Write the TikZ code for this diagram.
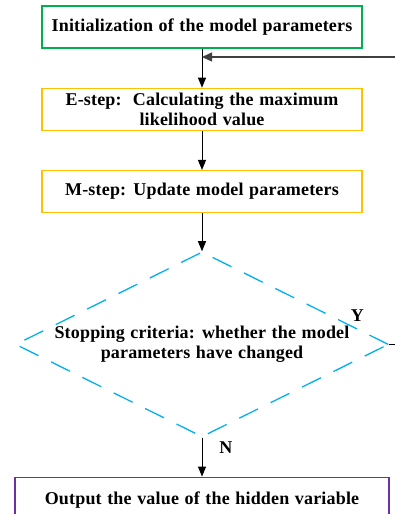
\documentclass[tikz,border=0pt]{standalone}
\usepackage{fontspec}
\setmainfont{Liberation Serif}[WordSpace=1.2, LetterSpace=1]
\usetikzlibrary{positioning, arrows.meta, shapes.geometric}
\definecolor{initgreen}{RGB}{0,176,80}
\definecolor{stepgold}{RGB}{255,192,0}
\definecolor{critblue}{RGB}{0,176,240}
\definecolor{outpurple}{RGB}{112,48,160}

\begin{document}
\begin{tikzpicture}[
  box/.style={draw=#1, rectangle, minimum width=320pt, minimum height=42pt,
              line width=1.3pt, align=center, inner sep=2pt,
              font=\fontsize{18}{20}\selectfont\bfseries},
  crit/.style={draw=critblue, diamond, aspect=2, minimum width=373pt, minimum height=185pt,
               line width=1.3pt, dash pattern=on 21pt off 14pt, align=center, inner sep=0pt,
               font=\fontsize{18}{20}\selectfont\bfseries},
  arr/.style={-{Triangle[length=10pt, width=8pt]}, line width=0.9pt, color=black},
  arrfb/.style={-{Triangle[length=10pt, width=9pt]}, line width=1.3pt, color=black!75},
  lbl/.style={font=\fontsize{18}{20}\selectfont\bfseries, inner sep=1pt},
]
\useasboundingbox (0,0) rectangle (395pt,-514pt);

% ===== MAIN FLOW NODES =====
\node[box=initgreen] (m1) at (202pt,-27pt) {Initialization of the model parameters};
\node[box=stepgold, below=39pt of m1] (m2) {E-step:\ \ Calculating the maximum\\likelihood value};
\node[box=stepgold, below=39pt of m2] (m3) {M-step: Update model parameters};

% ===== STOPPING CRITERIA =====
\node[crit, below=38pt of m3] (m4) {Stopping criteria: whether the model\\parameters have changed};

% ===== OUTPUT =====
\node[box=outpurple, minimum width=374pt, minimum height=46pt, below=39pt of m4] (m5)
  {Output the value of the hidden variable};

% ===== ARROWS =====
\draw[arr] (m1) -- (m2);
\draw[arr] (m2) -- (m3);
\draw[arr] (m3) -- (m4);
\draw[arr] (m4) -- node[lbl, right=16pt, pos=0.25] {N} (m5);

% Y branch and feedback (cut at the right edge)
\coordinate[right=8pt of m4.east] (yend);
\draw[line width=0.9pt] (m4.east) -- (yend);
\node[lbl, above left=22pt and 24pt of m4.east] (ylbl) {Y};
\coordinate (fbin) at (395pt,-57pt);
\draw[arrfb] (fbin) -- (fbin -| m1.south);

\end{tikzpicture}
\end{document}
